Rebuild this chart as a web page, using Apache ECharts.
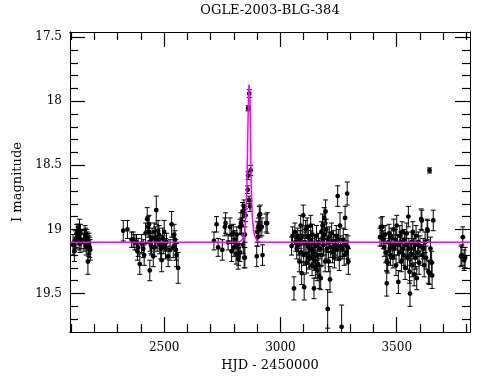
<!DOCTYPE html>
<html>
<head>
<meta charset="utf-8">
<script src="https://cdn.jsdelivr.net/npm/echarts@6/dist/echarts.min.js"></script>
<style>
html,body{margin:0;padding:0;background:#fff;}
#chart{width:490px;height:380px;}
</style>
</head>
<body>
<div id="chart"></div>
<script>
// ---- Data ----
var hjd = [
 2108,2114,2118,2121,2124,2126,2129,2132,2134,2136,2138,2140,2143,2155,2157,2160,2162,2165,2167,2170,2172,2175,2177,2180,2182,
 2324,2342,2360,2367,2374,2381,2385,2388,2395,2403,2410,2414,2420,2427,2431,2435,2436,2438,2440,2443,2445,2448,2453,2457,2459,2463,2466,2470,2474,2478,2481,2485,2489,2493,2496,2500,2506,2510,2517,2525,2532,2539,2543,2546,2550,2553,2560,
 2714,2725,2732,2750,2761,2764,2775,2783,2790,2790,2797,2800,2804,2809,2812,2816,2818,2820,2826,2826,2830,2833,2837,2840,2840,2843,2844,2847,2847,2850,2859,2861,2861,2865,2866,2869,2872,2898,2900,2902,2905,2909,2912,2913,2920,2923,2938,2943,
 3048,3052,3058,3062,3066,3070,3074,3077,3081,3084,3087,3089,3091,3094,3098,3100,3102,3105,3108,3110,3112,3115,3118,3120,3122,3124,3127,3130,3132,3134,3136,3138,3140,3142,3144,3146,3148,3150,3152,3155,3158,3160,3162,3164,3167,3170,3173,3176,3178,3181,3183,3185,3188,3190,3192,3194,3197,3199,3203,3205,3207,3210,3213,3216,3220,3224,3228,3232,3236,3240,3244,3246,3249,3253,3256,3259,3263,3266,3270,3274,3278,3282,3285,3287,3290,3292,
 3428,3432,3435,3438,3442,3446,3450,3453,3457,3457,3461,3464,3467,3470,3473,3476,3480,3484,3487,3490,3494,3497,3500,3503,3507,3510,3513,3516,3520,3523,3526,3530,3533,3536,3540,3543,3546,3550,3552,3555,3557,3560,3563,3566,3569,3572,3575,3578,3580,3583,3586,3590,3593,3596,3600,3605,3608,3610,3614,3618,3622,3626,3631,3633,3636,3640,3641,3645,3650,3652,3657,
 3776,3780,3784,3790,3794
];
var mag = [
 19.12,19.17,19.08,19.07,19.03,19.02,19.05,19.03,19.09,19.01,19.11,19.03,19.08,19.10,19.08,19.04,19.06,19.12,19.07,19.09,19.25,19.13,19.11,19.14,19.16,
 19.01,19.00,19.08,19.08,19.10,19.10,19.17,19.14,19.27,19.11,19.15,19.20,19.03,18.92,18.98,18.96,19.02,19.32,19.10,19.12,19.13,19.07,19.21,19.02,19.14,19.06,18.85,19.09,19.01,19.04,19.12,19.15,19.24,19.07,19.12,19.02,19.15,19.10,19.21,19.16,18.96,19.14,19.04,19.08,19.16,19.20,19.30,
 19.09,18.96,19.14,19.16,18.98,18.95,19.10,18.98,19.04,19.17,19.03,19.14,19.08,19.19,19.04,19.12,19.23,19.21,18.98,19.18,18.95,18.97,18.86,19.12,18.86,18.82,19.22,19.04,19.22,18.89,18.69,18.58,18.055,18.77,17.94,18.82,18.54,19.21,19.02,19.06,18.98,18.89,19.00,18.88,18.98,19.20,18.95,18.95,
 19.13,19.05,19.46,19.02,19.10,19.15,19.06,19.12,19.25,19.08,18.97,19.18,19.34,19.05,18.89,19.20,19.45,19.10,19.00,19.19,19.26,18.98,19.12,19.06,19.22,19.23,19.15,18.97,19.09,19.15,19.28,19.04,19.18,19.22,19.46,19.11,19.24,19.30,19.13,19.05,19.32,19.20,19.27,19.10,19.37,19.15,19.38,19.02,19.20,18.97,19.08,19.12,18.91,19.04,19.25,18.86,19.00,19.15,19.62,19.10,19.25,19.06,19.39,19.14,19.03,19.18,19.09,19.22,19.12,19.05,19.16,18.74,19.08,19.23,18.97,19.13,19.76,19.15,19.08,19.20,18.91,19.12,19.18,18.72,19.14,19.25,
 19.06,18.98,19.06,18.98,19.08,19.14,19.04,19.18,19.25,19.42,19.26,19.10,19.03,19.15,19.20,19.06,19.12,19.22,19.00,19.15,19.08,19.28,18.97,19.12,19.41,19.18,19.05,19.10,19.25,19.02,19.15,19.20,19.08,19.30,19.12,19.03,19.22,18.90,19.15,19.33,19.50,19.20,19.10,19.28,19.02,19.15,19.35,19.12,19.22,19.05,19.38,19.18,19.10,19.26,19.13,18.92,18.93,19.20,19.15,19.28,19.10,19.22,19.00,19.01,19.33,19.34,18.54,19.15,19.26,19.36,18.93,
 19.21,19.20,19.06,19.24,19.22
];
var err = [
 0.08,0.08,0.07,0.07,0.07,0.06,0.07,0.07,0.07,0.09,0.07,0.07,0.07,0.07,0.07,0.07,0.07,0.08,0.07,0.07,0.10,0.08,0.08,0.08,0.08,
 0.08,0.07,0.06,0.06,0.06,0.06,0.07,0.07,0.08,0.07,0.07,0.08,0.08,0.09,0.08,0.07,0.07,0.08,0.07,0.07,0.07,0.08,0.08,0.07,0.07,0.08,0.11,0.08,0.08,0.07,0.07,0.08,0.09,0.08,0.07,0.09,0.08,0.07,0.08,0.08,0.10,0.08,0.08,0.07,0.08,0.09,0.12,
 0.07,0.06,0.07,0.08,0.07,0.08,0.06,0.07,0.07,0.08,0.07,0.07,0.07,0.08,0.06,0.08,0.08,0.07,0.06,0.07,0.08,0.06,0.07,0.07,0.05,0.05,0.08,0.06,0.08,0.05,0.03,0.03,0.02,0.03,0.03,0.04,0.04,0.08,0.08,0.07,0.07,0.07,0.06,0.07,0.07,0.08,0.07,0.08,
 0.07,0.07,0.09,0.07,0.07,0.08,0.07,0.08,0.08,0.07,0.08,0.08,0.09,0.07,0.08,0.08,0.10,0.08,0.07,0.08,0.08,0.07,0.08,0.08,0.08,0.08,0.07,0.08,0.08,0.08,0.08,0.08,0.08,0.08,0.08,0.07,0.08,0.08,0.08,0.08,0.08,0.08,0.08,0.07,0.09,0.08,0.09,0.08,0.08,0.09,0.08,0.08,0.08,0.08,0.08,0.09,0.08,0.08,0.15,0.08,0.08,0.08,0.10,0.08,0.08,0.08,0.08,0.08,0.08,0.08,0.08,0.08,0.08,0.09,0.10,0.08,0.17,0.08,0.09,0.08,0.09,0.08,0.09,0.09,0.09,0.10,
 0.07,0.07,0.07,0.08,0.07,0.07,0.07,0.08,0.08,0.10,0.08,0.07,0.07,0.08,0.08,0.07,0.08,0.08,0.08,0.08,0.08,0.08,0.08,0.08,0.09,0.08,0.08,0.08,0.08,0.08,0.08,0.08,0.08,0.09,0.08,0.08,0.09,0.08,0.08,0.09,0.10,0.08,0.08,0.09,0.08,0.08,0.09,0.08,0.09,0.08,0.09,0.08,0.08,0.09,0.08,0.08,0.08,0.08,0.08,0.09,0.08,0.09,0.08,0.08,0.09,0.09,0.02,0.09,0.09,0.10,0.08,
 0.08,0.08,0.08,0.08,0.08
];
// model light curve
var modelHjd = [2095,2820,2830,2840,2846,2851,2856,2859,2861.5,2864.5,2867,2869,2872,2874,2879,2887,2900,2915,3815];
var modelMag = [19.10,19.10,19.09,19.07,19.02,18.89,18.65,18.32,18.06,17.87,17.92,17.98,18.32,18.65,18.91,19.04,19.09,19.10,19.10];
// tick positions
var xMajor = [2500,3000,3500];
var xMinor = [2100,2200,2300,2400,2600,2700,2800,2900,3100,3200,3300,3400,3600,3700,3800];
var yMajor = [17.5,18,18.5,19,19.5];
var yMinor = [17.6,17.7,17.8,17.9,18.1,18.2,18.3,18.4,18.6,18.7,18.8,18.9,19.1,19.2,19.3,19.4,19.6,19.7];
var titleText = 'OGLE-2003-BLG-384';
var xName = 'HJD - 2450000';
var yName = 'I magnitude';

var X0 = 2095, X1 = 3815, Y0 = 17.46, Y1 = 19.80;
var FONT = 'DejaVu Serif';

var pts = hjd.map(function(h,i){return [h, mag[i], err[i]];});
var model = modelHjd.map(function(h,i){return [h, modelMag[i]];});

function xAx(g, pos, vals, len, labels){
  var a = {type:'value', gridIndex:g, position:pos, min:X0, max:X1,
    axisLine:{show:true, onZero:false, lineStyle:{color:'#000', width:1}},
    axisTick:{show:true, inside:true, length:len, customValues:vals, lineStyle:{color:'#000', width:1.2}},
    axisLabel:{show:false, customValues:vals},
    splitLine:{show:false}};
  if (labels) {
    a.axisLabel = {show:true, customValues:vals, margin:10, color:'#000', fontSize:12,
      formatter:function(v){return String(v);}};
    a.name = xName; a.nameLocation = 'middle'; a.nameGap = 25;
    a.nameTextStyle = {color:'#000', fontSize:13};
  }
  return a;
}
function yAx(g, pos, vals, len, labels){
  var a = {type:'value', gridIndex:g, position:pos, inverse:true, min:Y0, max:Y1,
    axisLine:{show:true, onZero:false, lineStyle:{color:'#000', width:1}},
    axisTick:{show:true, inside:true, length:len, customValues:vals, lineStyle:{color:'#000', width:1.2}},
    axisLabel:{show:false, customValues:vals},
    splitLine:{show:false}};
  if (labels) {
    a.axisLabel = {show:true, customValues:vals, margin:8, color:'#000', fontSize:12,
      formatter:function(v){return String(v);}};
    a.name = yName; a.nameLocation = 'middle'; a.nameGap = 46;
    a.nameTextStyle = {color:'#000', fontSize:13};
  }
  return a;
}

var chart = echarts.init(document.getElementById('chart'));
chart.setOption({
  animation:false,
  textStyle:{fontFamily:FONT},
  title:{text:titleText, left:270, top:4, padding:0, textAlign:'center',
    textStyle:{color:'#000', fontSize:13, fontWeight:'normal'}},
  grid:[
    {left:70, right:20, top:32, bottom:48},
    {left:70, right:20, top:32, bottom:48}
  ],
  xAxis:[xAx(0, 'bottom', xMajor, 15, true), xAx(0, 'bottom', xMinor, 8, false),
         xAx(1, 'top', xMajor, 15, false), xAx(1, 'top', xMinor, 8, false)],
  yAxis:[yAx(0, 'left', yMajor, 15, true), yAx(0, 'left', yMinor, 8, false),
         yAx(1, 'right', yMajor, 15, false), yAx(1, 'right', yMinor, 8, false)],
  series:[
    {type:'custom', xAxisIndex:0, yAxisIndex:0, data:pts, z:3,
     renderItem:function(params, api){
       var x = api.value(0), y = api.value(1), e = api.value(2);
       var p = api.coord([x,y]);
       var hi = api.coord([x, y-e]);
       var lo = api.coord([x, y+e]);
       var w = 2.5;
       var cs = params.coordSys;
       var st = {stroke:'#000', lineWidth:1};
       return {type:'group',
         clipPath:{type:'rect', shape:{x:cs.x, y:cs.y, width:cs.width, height:cs.height}},
         children:[
         {type:'line', shape:{x1:p[0], y1:hi[1], x2:p[0], y2:lo[1]}, style:st},
         {type:'line', shape:{x1:p[0]-w, y1:hi[1], x2:p[0]+w, y2:hi[1]}, style:st},
         {type:'line', shape:{x1:p[0]-w, y1:lo[1], x2:p[0]+w, y2:lo[1]}, style:st},
         {type:'circle', shape:{cx:p[0], cy:p[1], r:2.4}, style:{fill:'#000'}}
       ]};
     }},
    {type:'line', xAxisIndex:0, yAxisIndex:0, data:model, showSymbol:false, symbol:'none',
     lineStyle:{color:'#ff00ff', width:1.5}, z:5, clip:true}
  ]
});
</script>
</body>
</html>
